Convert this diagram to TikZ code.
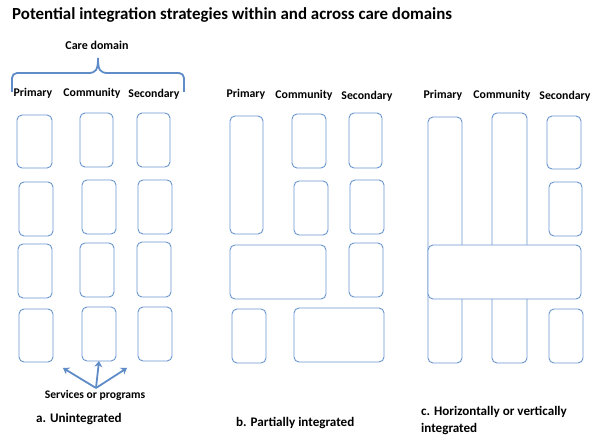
\documentclass[tikz,border=0pt]{standalone}
\usepackage{fontspec}
\setmainfont{Carlito}
\usetikzlibrary{arrows.meta}
\definecolor{boxblue}{RGB}{105,150,208}
\definecolor{braceblue}{RGB}{95,140,200}
\tikzset{
  box/.style={draw=boxblue, line width=0.9pt, rounded corners=5pt, fill=white, inner sep=0pt, outer sep=0pt},
  colhead/.style={font=\bfseries\fontsize{11.8}{13}\selectfont, inner sep=0pt},
  captxt/.style={font=\bfseries\fontsize{13.1}{17}\selectfont, inner sep=0pt, anchor=west, align=left},
  pointer/.style={draw=braceblue, line width=1.8pt, -{Stealth[length=6pt,width=8pt]}},
}
\newcommand{\bx}[5]{\node[box, minimum width={(#4-#2)*1pt}, minimum height={(#5-#3)*1pt}] (#1) at ({(#2+#4)/2},{(#3+#5)/2}) {};}
\begin{document}
\begin{tikzpicture}[x=1pt,y=-1pt]
\useasboundingbox[fill=white] (0,0) rectangle (600,446);
% title
\node[font=\bfseries\fontsize{16.9}{19}\selectfont, anchor=west, inner sep=0pt] (title) at (12,15) {Potential integration strategies within and across care domains};
% panel a
\node[font=\bfseries\fontsize{12}{13}\selectfont, inner sep=0pt] (care) at (97,45) {Care domain};
\draw[braceblue, line width=1.8pt, rounded corners=5pt] (12,92) -- (12,73) -- (88,73);
\draw[braceblue, line width=1.8pt, rounded corners=5pt] (108,73) -- (184,73) -- (184,92);
\draw[braceblue, line width=1.8pt] (88,73) .. controls (96,73) and (98,70) .. (98,58) .. controls (98,70) and (100,73) .. (108,73);
\node[colhead] (ap) at (33,93) {Primary};
\node[colhead] (ac) at (92,93) {Community};
\node[colhead] (as) at (154,94) {Secondary};
\bx{a11}{17}{115}{52}{168}
\bx{a12}{80}{113}{113}{167}
\bx{a13}{137}{113}{170}{167}
\bx{a21}{19}{182}{53}{236}
\bx{a22}{82}{180}{116}{234}
\bx{a23}{138}{180}{172}{234}
\bx{a31}{18}{244}{52}{298}
\bx{a32}{80}{243}{114}{297}
\bx{a33}{137}{242}{171}{297}
\bx{a41}{19}{309}{53}{362}
\bx{a42}{82}{307}{116}{361}
\bx{a43}{138}{307}{172}{361}
\node[font=\bfseries\fontsize{11.6}{13}\selectfont, inner sep=0pt] (svc) at (95,395) {Services or programs};
\coordinate (o) at (96,388);
\coordinate (tl) at (63,368);
\coordinate (tr) at (127,368);
\draw[pointer] (o) -- (tl);
\draw[pointer] (o) -- (a42.south);
\draw[pointer] (o) -- (tr);
\node[captxt] (capa) at (36,419) {a. Unintegrated};
% panel b
\node[colhead] (bp) at (246,94) {Primary};
\node[colhead] (bc) at (304,95) {Community};
\node[colhead] (bs) at (367,96) {Secondary};
\bx{b1}{230}{116}{263}{234}
\bx{b2}{292}{114}{326}{168}
\bx{b3}{349}{113}{382}{168}
\bx{b4}{294}{181}{328}{235}
\bx{b5}{350}{180}{384}{234}
\bx{b6}{230}{245}{326}{299}
\bx{b7}{349}{243}{383}{297}
\bx{b8}{232}{309}{266}{363}
\bx{b9}{294}{308}{384}{362}
\node[captxt] (capb) at (236,423) {b. Partially integrated};
% panel c
\node[colhead] (cp) at (443,95) {Primary};
\node[colhead] (cc) at (502,95) {Community};
\node[colhead] (cs) at (565,96) {Secondary};
\bx{c1}{428}{117}{462}{363}
\bx{c2}{492}{113}{527}{363}
\bx{c3}{547}{116}{581}{169}
\bx{c4}{549}{182}{582}{236}
\bx{c5}{428}{245}{581}{299}
\bx{c6}{549}{309}{583}{363}
\node[captxt] (capc) at (421,421) {c. Horizontally or vertically\\integrated};
\end{tikzpicture}
\end{document}
